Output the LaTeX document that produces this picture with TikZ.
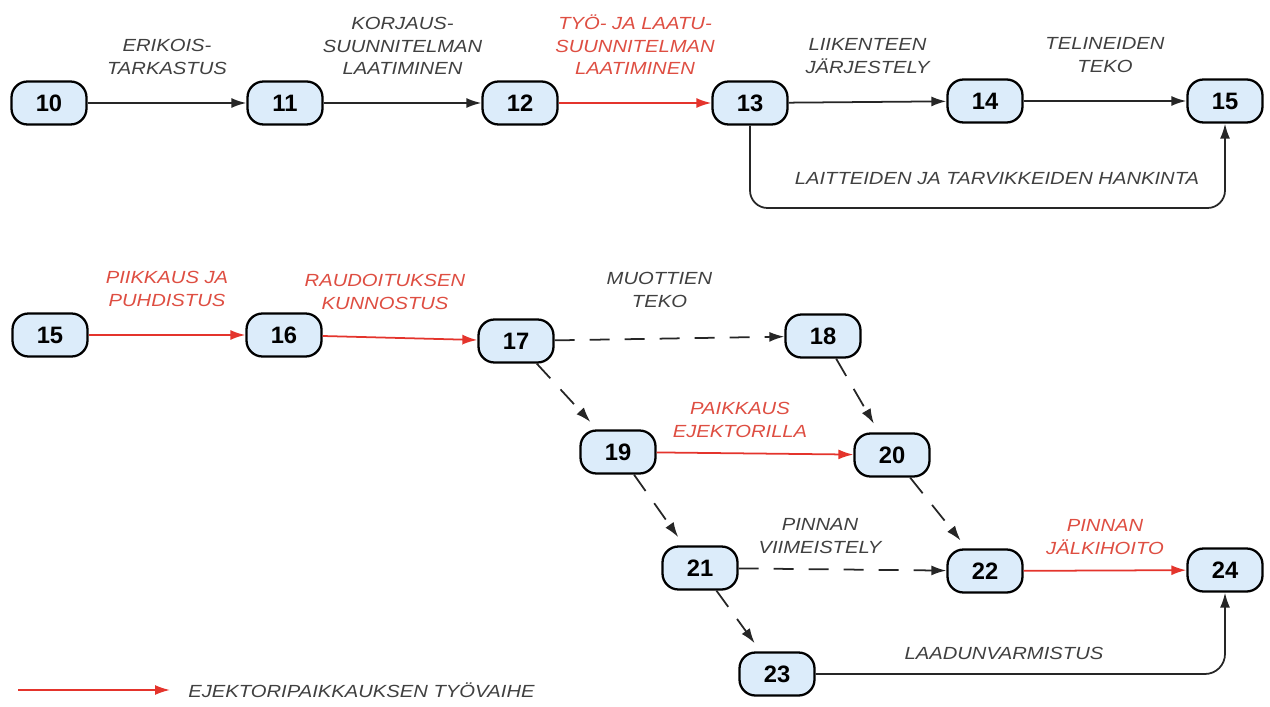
\documentclass[tikz,border=0pt]{standalone}
\usepackage{fontspec}
\setmainfont{Liberation Sans}
\newfontfamily\lblfont{Liberation Sans}[FakeStretch=1.15]
\usetikzlibrary{arrows.meta,positioning,calc}
\definecolor{evfill}{RGB}{220,236,250}
\definecolor{evred}{RGB}{228,52,44}
\definecolor{lblred}{RGB}{222,78,66}
\definecolor{lblgray}{RGB}{64,64,64}

\begin{document}
\begin{tikzpicture}[x=0.2mm, y=-0.2mm, >={Latex[length=3mm,width=2mm]},
  event/.style={draw, line width=1.3pt, fill=evfill, rounded corners=3.2mm, minimum width=15mm, minimum height=8.6mm, inner sep=0pt, font=\fontsize{13.5}{14}\selectfont\bfseries},
  act/.style={->, line width=1pt, black!85},
  crit/.style={->, line width=1pt, evred},
  dum/.style={->, line width=1pt, black!85, dash pattern=on 4mm off 3mm},
  lbl/.style={font=\lblfont\fontsize{10}{12.8}\selectfont\itshape, text=lblgray, align=center, inner sep=0pt},
  rlbl/.style={lbl, text=lblred}]
\useasboundingbox (0,0) rectangle (1270,707);

% ylempi verkko: valmistelu
\node[event] (n10) at (49,103) {10};
\node[event] (n11) at (285,103) {11};
\node[event] (n12) at (520,103) {12};
\node[event] (n13) at (750,103) {13};
\node[event] (n14) at (985,101) {14};
\node[event] (n15) at (1225,101) {15};
\coordinate (loopb) at (1225,208);

\draw[act] (n10) -- node[lbl, above=5.5mm] {ERIKOIS-\\TARKASTUS} (n11);
\draw[act] (n11) -- node[lbl, above=5.5mm] {KORJAUS-\\SUUNNITELMAN\\LAATIMINEN} (n12);
\draw[crit] (n12) -- node[rlbl, above=5.5mm] {TYÖ- JA LAATU-\\SUUNNITELMAN\\LAATIMINEN} (n13);
\draw[act] (n13) -- node[lbl, above=5.5mm] {LIIKENTEEN\\JÄRJESTELY} (n14);
\draw[act] (n14) -- node[lbl, above=5.5mm] {TELINEIDEN\\TEKO} (n15);
\draw[act, rounded corners=3.5mm] (n13) |- node[lbl, pos=0.76, above=4.4mm] {LAITTEIDEN JA TARVIKKEIDEN HANKINTA} (loopb) -- (n15);

% alempi verkko: korjaustyo
\node[event] (n15b) at (50,335) {15};
\node[event] (n16) at (284,335) {16};
\node[event] (n17) at (516,341) {17};
\node[event] (n18) at (823,336) {18};
\node[event] (n19) at (618,452) {19};
\node[event] (n20) at (892,455) {20};
\node[event] (n21) at (700,568) {21};
\node[event] (n22) at (985,571) {22};
\node[event] (n23) at (777,674) {23};
\node[event] (n24) at (1225,570) {24};

\draw[crit] (n15b) -- node[rlbl, above=5.5mm] {PIIKKAUS JA\\PUHDISTUS} (n16);
\draw[crit] (n16) -- node[rlbl, above=5.5mm, xshift=-3mm] {RAUDOITUKSEN\\KUNNOSTUS} (n17);
\draw[dum] (n17) -- node[lbl, above=6mm, xshift=-2mm] {MUOTTIEN\\TEKO} (n18);
\draw[dum, shorten >=2mm] (n17) -- (n19);
\draw[dum, shorten >=2mm] (n18) -- (n20);
\draw[crit] (n19) -- node[rlbl, above=3mm, xshift=-3mm] {PAIKKAUS\\EJEKTORILLA} (n20);
\draw[dum, shorten >=2mm] (n19) -- (n21);
\draw[dum, shorten >=2mm] (n20) -- (n22);
\draw[dum] (n21) -- node[lbl, above=3mm, xshift=-4.5mm] {PINNAN\\VIIMEISTELY} (n22);
\draw[crit] (n22) -- node[rlbl, above=3mm] {PINNAN\\JÄLKIHOITO} (n24);
\draw[dum, shorten >=2mm] (n21) -- (n23);
\draw[act, rounded corners=4mm] (n23) -| node[lbl, pos=0.23, above=2.6mm] {LAADUNVARMISTUS} (n24);

% selite
\coordinate (lgs) at (18,690);
\coordinate (lge) at (170,690);
\draw[crit] (lgs) -- (lge);
\node[lbl, anchor=west] (lgt) at (188,690) {EJEKTORIPAIKKAUKSEN TYÖVAIHE};
\end{tikzpicture}
\end{document}
